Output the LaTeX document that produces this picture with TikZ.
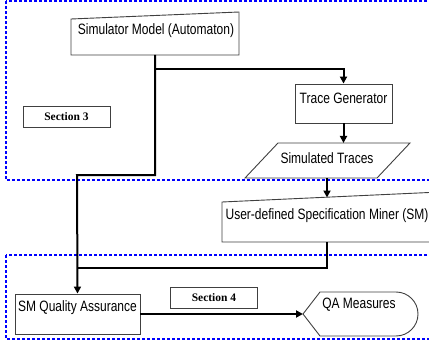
\documentclass[tikz,border=0pt]{standalone}
\usepackage{fontspec}
\setmainfont{Liberation Sans}[FakeStretch=0.8]
\newfontfamily\secfont{Liberation Serif}
\usetikzlibrary{arrows.meta}

\tikzset{
  box/.style={draw=black!75, line width=0.9pt, fill=white},
  label/.style={inner sep=0pt, font=\fontsize{15}{18}\selectfont},
  seclabel/.style={draw=black!75, line width=0.9pt, minimum width=87pt, minimum height=21pt,
    inner sep=0pt, font=\secfont\bfseries\fontsize{11.5}{13}\selectfont},
  region/.style={draw=blue, line width=1.3pt, dash pattern=on 3pt off 2pt},
  link/.style={line width=2pt, black}
}

\begin{document}
\begin{tikzpicture}[x=1pt, y=-1pt, >={Triangle[length=7pt,width=7pt]}]
  \useasboundingbox (0,0) rectangle (429,345);
  \begin{scope}
    \clip (0,0) rectangle (429,345);

    % Section regions
    \draw[region] (6,1) rectangle (440,180);
    \draw[region] (6,255) rectangle (440,339);

    % Simulator model (manual input)
    \draw[box] (71,19) -- (239,12) -- (239,55) -- (71,55) -- cycle;
    \node[label] (sim) at (156,31) {Simulator Model (Automaton)};
    \coordinate (simout) at (155,55);

    % Trace generator
    \node[box, minimum width=97pt, minimum height=39pt, inner sep=0pt] (tracegen) at (343.5,103.5) {};
    \node[label] (tracegentext) at (343.5,98) {Trace Generator};

    % Simulated traces (data)
    \draw[box] (278,143) -- (410,143) -- (377,178) -- (245,178) -- cycle;
    \node[label] (traces) at (327,158) {Simulated Traces};
    \coordinate (tracestop) at (343.5,143);
    \coordinate (tracesout) at (327,178);

    % Specification miner (manual input)
    \draw[box] (222,202) -- (440,192) -- (440,242) -- (222,242) -- cycle;
    \node[label] (miner) at (327,216) {User-defined Specification Miner (SM)};
    \coordinate (minerin) at (327,197.5);
    \coordinate (minerout) at (327,242);

    % Quality assurance
    \node[box, minimum width=125pt, minimum height=40pt, inner sep=0pt] (smqa) at (77.5,314) {};
    \node[label] (smqatext) at (77.5,308) {SM Quality Assurance};

    % QA measures (display)
    \draw[box] (303,314) -- (320,292) -- (396,292) arc[start angle=-90, end angle=90, radius=22] -- (320,336) -- cycle;
    \node[label] (qa) at (359,305) {QA Measures};
    \coordinate (qain) at (303,314);

    % Section labels
    \node[seclabel] (sec3) at (66.5,116.5) {Section 3};
    \node[seclabel] (sec4) at (214,297.5) {Section 4};

    % Connectors
    \coordinate (split) at (155,69);
    \coordinate (join) at (77,268);
    \draw[link, ->] (simout) |- (77,175) -- (smqa.north);
    \draw[link, ->] (split) -| (tracegen.north);
    \draw[link, ->] (tracegen.south) -- (tracestop);
    \draw[link, ->] (tracesout) -- (minerin);
    \draw[link] (minerout) |- (join);
    \draw[link, ->] (smqa.east |- qain) -- (qain);
  \end{scope}
\end{tikzpicture}
\end{document}
